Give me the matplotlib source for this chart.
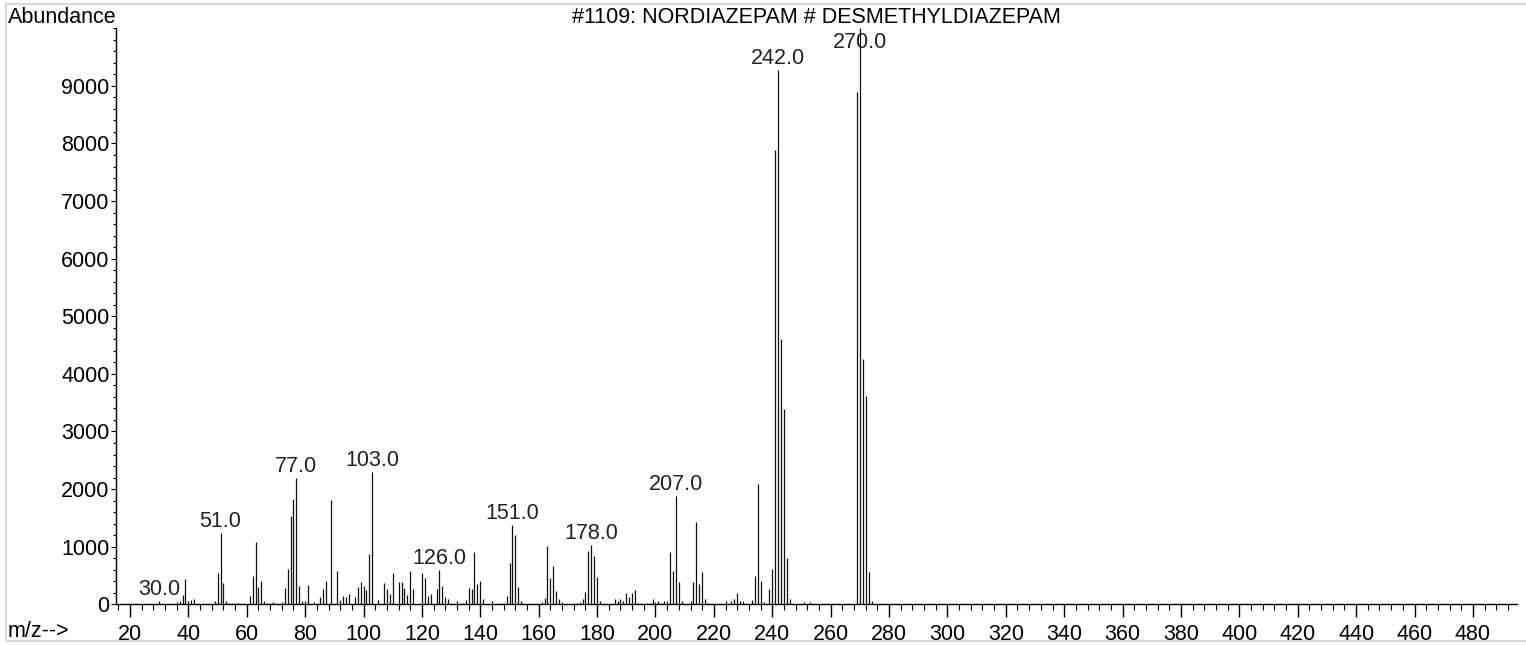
import matplotlib.pyplot as plt
import matplotlib.patches as mpatches
from matplotlib.ticker import MultipleLocator
import numpy as np

plt.rcParams['font.family'] = ['Liberation Sans', 'DejaVu Sans']

# Mass spectrum, m/z and abundance
mz = [30, 36, 37, 38, 39, 40, 41, 42, 49, 50, 51, 52, 53, 54, 55, 56, 57,
      61, 62, 63, 64, 65, 66, 67, 68, 69, 72, 73, 74, 75, 76, 77, 78, 79, 80,
      81, 83, 85, 86, 87, 89, 91, 92, 93, 94, 95, 97, 98, 99, 100, 101, 102,
      103, 105, 107, 108, 109, 110, 112, 113, 114, 115, 116, 117, 120, 121,
      122, 123, 125, 126, 127, 128, 129, 130, 132, 134, 135, 136, 137, 138,
      139, 140, 141, 144, 147, 148, 149, 150, 151, 152, 153, 154, 161, 162,
      163, 164, 165, 166, 167, 168, 172, 173, 174, 175, 176, 177, 178, 179,
      180, 181, 186, 187, 188, 189, 190, 191, 192, 193, 194, 195, 197, 198,
      199, 200, 201, 202, 203, 204, 205, 206, 207, 208, 209, 212, 213, 214,
      215, 216, 217, 218, 224, 226, 227, 228, 229, 230, 231, 233, 234, 235,
      236, 237, 239, 240, 241, 242, 243, 244, 245, 246, 251, 253, 255, 269,
      270, 271, 272, 273, 274]
abundance = [50, 40, 50, 160, 440, 50, 75, 100, 60, 540, 1235, 370, 60, 30,
             30, 30, 25, 145, 490, 1090, 300, 410, 60, 25, 30, 40, 40, 280,
             610, 1530, 1835, 2185, 315, 60, 60, 330, 40, 130, 265, 400, 1805,
             570, 75, 145, 130, 180, 130, 300, 390, 315, 250, 880, 2295, 75,
             375, 260, 180, 540, 385, 385, 280, 160, 575, 265, 540, 450, 145,
             180, 265, 595, 315, 130, 85, 30, 60, 30, 75, 280, 260, 915, 360,
             400, 85, 60, 20, 20, 150, 725, 1370, 1195, 300, 60, 40, 105,
             1010, 455, 660, 225, 100, 40, 20, 30, 40, 85, 210, 930, 1025, 840,
             480, 60, 100, 55, 85, 55, 190, 130, 190, 245, 30, 20, 25, 25, 100,
             40, 50, 30, 55, 55, 910, 570, 1880, 380, 50, 50, 390, 1425, 360,
             560, 85, 20, 50, 60, 90, 190, 55, 55, 20, 70, 500, 2080, 400, 35,
             260, 605, 7890, 9270, 4600, 3390, 800, 85, 35, 40, 10, 8900, 9999,
             4250, 3620, 560, 55]
labelled = [30, 51, 77, 103, 126, 151, 178, 207, 242, 270]

W, H = 1526, 645
fs = 15.5
fig = plt.figure(figsize=(W / 100, H / 100), dpi=100)
ax = fig.add_axes([116 / W, 1 - 604.3 / H, (1516.7 - 116) / W, (604.3 - 28.3) / H])

ax.vlines(mz, 0, abundance, color='#111111', linewidth=0.9)

ymax = 10000
ax.set_xlim(15.2, 495)
ax.set_ylim(0, ymax)

# peak labels, kept inside the plot when the peak is near the top
lookup = dict(zip(mz, abundance))
for m in labelled:
    v = lookup[m]
    txt = f"{m:.1f}"
    if v > 9400:
        ax.annotate(txt, (m, ymax), xytext=(0, -3), textcoords='offset points',
                    ha='center', va='top', fontsize=fs, color='#222222')
    else:
        ax.annotate(txt, (m, v), xytext=(0, 4.5), textcoords='offset points',
                    ha='center', va='baseline', fontsize=fs, color='#222222')

ax.set_xticks(np.arange(20, 481, 20))
ax.xaxis.set_minor_locator(MultipleLocator(4))
ax.set_yticks(np.arange(0, 9001, 1000))
ax.yaxis.set_minor_locator(MultipleLocator(200))

ax.tick_params(axis='x', which='major', direction='out', length=9.4, width=1,
               labelsize=fs, pad=4.5)
ax.tick_params(axis='x', which='minor', direction='out', length=4.3, width=0.8)
ax.tick_params(axis='y', which='major', direction='out', length=3.6, width=0.8,
               labelsize=fs, pad=1)
ax.tick_params(axis='y', which='minor', direction='out', length=2, width=0.8)

for side in ['top', 'right']:
    ax.spines[side].set_visible(False)
for side in ['left', 'bottom']:
    ax.spines[side].set_linewidth(1)

fig.text(8 / W, 1 - 23 / H, "Abundance", ha='left', va='baseline', fontsize=fs)
fig.text(816 / W, 1 - 23 / H, "#1109: NORDIAZEPAM # DESMETHYLDIAZEPAM",
         ha='center', va='baseline', fontsize=fs)
fig.text(8 / W, 1 - 637 / H, "m/z-->", ha='left', va='baseline', fontsize=fs)

# light grey frame round the picture
frame = mpatches.Rectangle((6 / W, 1 - 641 / H), (1540 - 6) / W, (641 - 4) / H,
                           transform=fig.transFigure, fill=False,
                           edgecolor='#d8d8d8', linewidth=1.5)
fig.add_artist(frame)

fig.savefig('out.png', dpi=100)
